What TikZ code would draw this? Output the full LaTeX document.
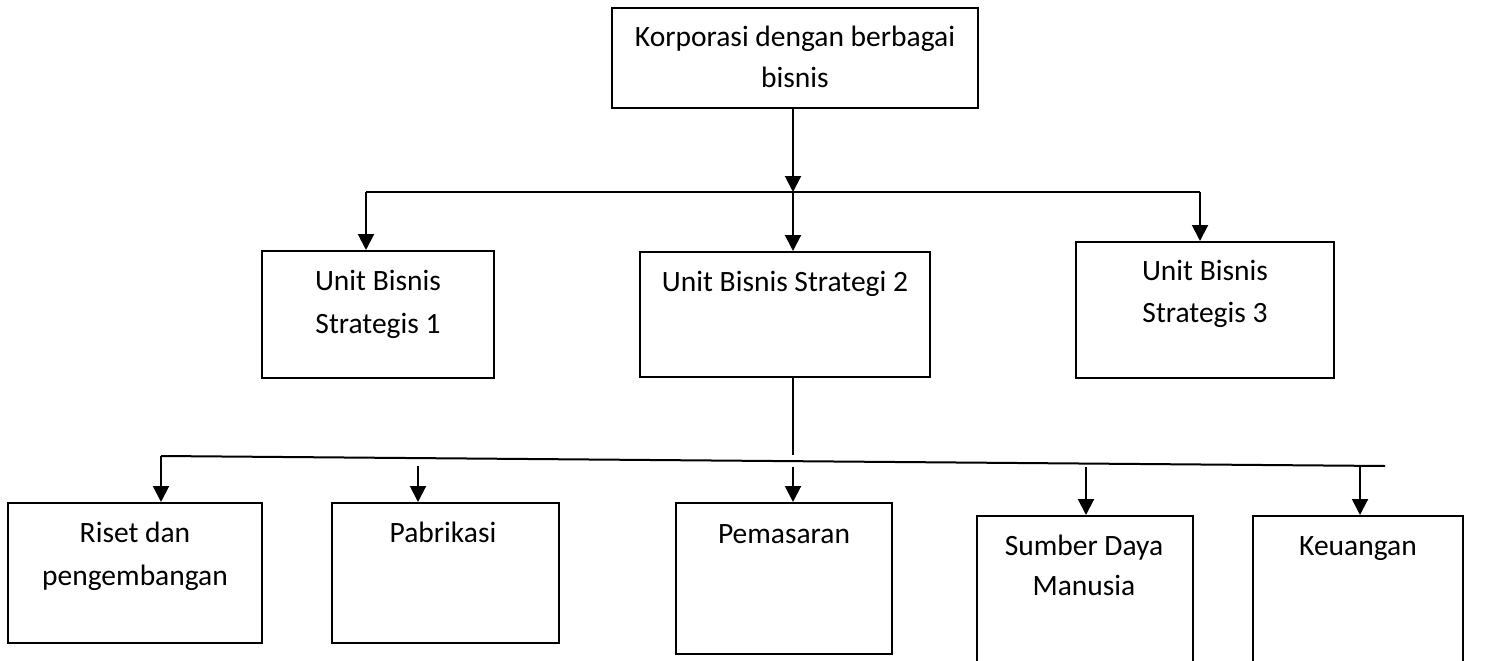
\documentclass[tikz,border=0pt]{standalone}
\usepackage{fontspec}
\setmainfont{Carlito}
\usetikzlibrary{arrows.meta}
\tikzset{
  box/.style={draw=black, line width=2pt, rectangle, inner sep=0pt},
  lbl/.style={anchor=base, inner sep=0pt, font=\fontsize{29.5}{41}\selectfont},
  wire/.style={draw=black, line width=2pt},
  arr/.style={draw=black, line width=2pt, -{Triangle[length=16pt,width=16pt]}}
}
\begin{document}
\begin{tikzpicture}[x=1pt,y=-1pt]
\useasboundingbox (0,0) rectangle (1489,661);
\clip (0,0) rectangle (1489,661);
\fill[white] (0,0) rectangle (1489,661);
% boxes
\node[box, minimum width=366pt, minimum height=100pt] (top) at (795,58) {};
\node[box, minimum width=232pt, minimum height=127pt] (b1) at (378,314.5) {};
\node[box, minimum width=290pt, minimum height=125pt] (b2) at (785,314.5) {};
\node[box, minimum width=258pt, minimum height=136pt] (b3) at (1205,310) {};
\node[box, minimum width=254pt, minimum height=140pt] (c1) at (135,573) {};
\node[box, minimum width=227pt, minimum height=140pt] (c2) at (445.5,573) {};
\node[box, minimum width=216pt, minimum height=151pt] (c3) at (784,578.5) {};
\node[box, minimum width=216pt, minimum height=184pt] (c4) at (1085,608) {};
\node[box, minimum width=210pt, minimum height=184pt] (c5) at (1358,608) {};
% labels
\node[lbl] (t1) at (795,47) {Korporasi dengan berbagai};
\node[lbl] (t2) at (795,88) {bisnis};
\node[lbl] (t3) at (378,290) {Unit Bisnis};
\node[lbl] (t4) at (378,333) {Strategis 1};
\node[lbl] (t5) at (785,291) {Unit Bisnis Strategi 2};
\node[lbl] (t6) at (1205,280) {Unit Bisnis};
\node[lbl] (t7) at (1205,322) {Strategis 3};
\node[lbl] (t8) at (135,542) {Riset dan};
\node[lbl] (t9) at (135,585) {pengembangan};
\node[lbl] (t10) at (443,542) {Pabrikasi};
\node[lbl] (t11) at (784,543) {Pemasaran};
\node[lbl] (t12) at (1084,555) {Sumber Daya};
\node[lbl] (t13) at (1084,595) {Manusia};
\node[lbl] (t14) at (1358,555) {Keuangan};
% coordinates for upper branch
\coordinate (hL) at (366,192);
\coordinate (hM) at (793,192);
\coordinate (hR) at (1200,192);
% coordinates for lower branch
\coordinate (bj) at (793,455);
\coordinate (lL) at (161,456);
\coordinate (lR) at (1385,466);
\coordinate (s2) at (418,466);
\coordinate (s3) at (793,467);
\coordinate (s4) at (1086,467);
\coordinate (s5) at (1360,466);
% upper connectors
\draw[arr] (top.south -| hM) -- (hM);
\draw[wire] (hL) -- (hR);
\draw[arr] (hL) -- (hL |- b1.north);
\draw[arr] (hM) -- (hM |- b2.north);
\draw[arr] (hR) -- (hR |- b3.north);
% lower connectors
\draw[wire] (b2.south -| bj) -- (bj);
\draw[wire] (lL) -- (lR);
\draw[arr] (lL) -- (lL |- c1.north);
\draw[arr] (s2) -- (s2 |- c2.north);
\draw[arr] (s3) -- (s3 |- c3.north);
\draw[arr] (s4) -- (s4 |- c4.north);
\draw[arr] (s5) -- (s5 |- c5.north);
\end{tikzpicture}
\end{document}
